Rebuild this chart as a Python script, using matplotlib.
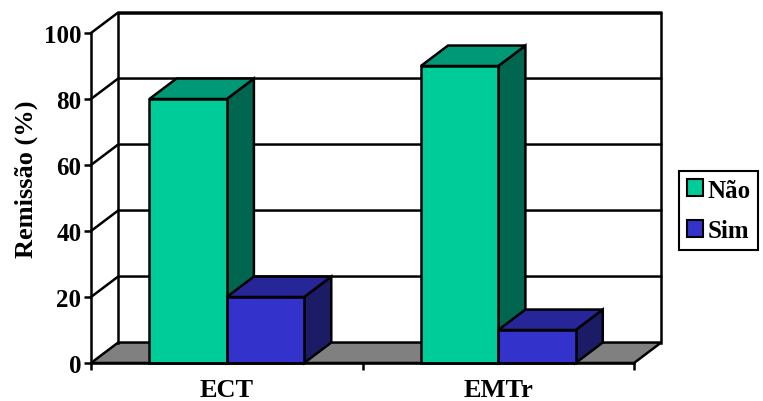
import matplotlib.pyplot as plt
from matplotlib.patches import Polygon, Patch

grupos = ['ECT', 'EMTr']
series = ['Não', 'Sim']
nao = [80, 90]
sim = [20, 10]
valores = {'Não': nao, 'Sim': sim}

# cores: frente, topo, lateral
cores = {
    'Não': ('#00CC99', '#009977', '#006650'),
    'Sim': ('#3333CC', '#262699', '#1C1C66'),
}

plt.rcParams['font.family'] = 'Liberation Serif'
plt.rcParams['font.weight'] = 'bold'

fig = plt.figure(figsize=(7.63, 4.02), dpi=100)
ax = fig.add_axes([91 / 763, 38 / 402, 543 / 763, 330 / 402])
ax.set_xlim(0, len(grupos))
ax.set_ylim(0, 100)

# profundidade da perspectiva (em unidades de dados)
dx, dy = 0.1, 6.2
lw = 1.8
n = len(grupos)

# piso e parede do fundo
ax.add_patch(Polygon([(0, 0), (n, 0), (n + dx, dy), (dx, dy)], closed=True,
                     facecolor='#808080', edgecolor='black', lw=lw,
                     clip_on=False, zorder=1))
ax.plot([dx, dx, n + dx, n + dx], [dy, 100 + dy, 100 + dy, dy],
        color='black', lw=lw, clip_on=False, zorder=1, solid_joinstyle='miter')
for v in range(20, 101, 20):
    ax.plot([0, dx, n + dx], [v, v + dy, v + dy], color='black', lw=lw,
            clip_on=False, zorder=1)

# barras 3D
largura = 0.285
for i, g in enumerate(grupos):
    for j, s in enumerate(series):
        h = valores[s][i]
        x0 = i + 0.5 - largura + j * largura
        x1 = x0 + largura
        frente, topo, lado = cores[s]
        ax.add_patch(Polygon([(x1, 0), (x1 + dx, dy), (x1 + dx, h + dy), (x1, h)],
                             facecolor=lado, edgecolor='black', lw=lw,
                             clip_on=False, zorder=3))
        ax.add_patch(Polygon([(x0, h), (x1, h), (x1 + dx, h + dy), (x0 + dx, h + dy)],
                             facecolor=topo, edgecolor='black', lw=lw,
                             clip_on=False, zorder=3))
        ax.add_patch(Polygon([(x0, 0), (x1, 0), (x1, h), (x0, h)],
                             facecolor=frente, edgecolor='black', lw=lw,
                             clip_on=False, zorder=3))

for lado_ax in ['top', 'right']:
    ax.spines[lado_ax].set_visible(False)
for lado_ax in ['left', 'bottom']:
    ax.spines[lado_ax].set_linewidth(lw)
    ax.spines[lado_ax].set_zorder(4)

ax.set_yticks(range(0, 101, 20))
ax.tick_params(axis='y', direction='out', length=5, width=lw, labelsize=18, pad=2)
ax.set_xticks(range(n + 1))
ax.set_xticklabels([])
ax.set_xticks([i + 0.5 for i in range(n)], minor=True)
ax.set_xticklabels(grupos, minor=True, fontsize=19, fontweight='bold')
ax.tick_params(axis='x', which='major', direction='out', length=5, width=lw)
ax.tick_params(axis='x', which='minor', length=0, pad=11)
ax.set_facecolor('none')
ax.set_ylabel('Remissão (%)', fontsize=19, fontweight='bold')
ax.yaxis.set_label_coords(-0.097, 0.56)

handles = [Patch(facecolor=cores[s][0], edgecolor='black', lw=1.5) for s in series]
leg = fig.legend(handles, series, loc='upper left',
                 bbox_to_anchor=(679 / 763, 1 - 172 / 402),
                 frameon=True, fancybox=False, edgecolor='black', framealpha=1,
                 prop={'family': 'Liberation Serif', 'weight': 'bold', 'size': 18},
                 handlelength=0.65, handleheight=0.65, handletextpad=0.2,
                 borderpad=0.3, borderaxespad=0, labelspacing=0.7)
leg.get_frame().set_linewidth(1.5)

fig.savefig('out.png', dpi=100)
